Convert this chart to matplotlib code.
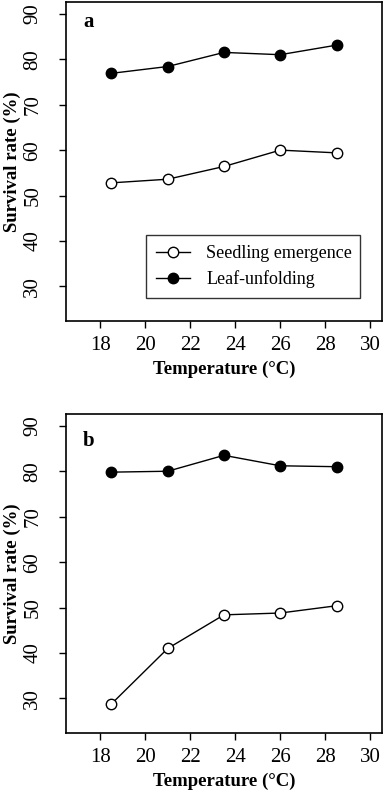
import numpy as np
import matplotlib.pyplot as plt

plt.rcParams['font.family'] = ['Liberation Serif', 'DejaVu Serif']

temp = [18.5, 21, 23.5, 26, 28.5]
seed_a = [52.8, 53.6, 56.4, 60.0, 59.4]
leaf_a = [76.9, 78.4, 81.5, 81.0, 83.1]
seed_b = [28.8, 41.0, 48.4, 48.8, 50.4]
leaf_b = [79.8, 80.0, 83.5, 81.2, 81.0]

fig = plt.figure(figsize=(3.87, 7.92), dpi=100)
ax_a = fig.add_axes([0.1705, 0.5947, 0.8165, 0.4028])
ax_b = fig.add_axes([0.1705, 0.0745, 0.8165, 0.4028])

for ax, seed, leaf, lab, ly in [(ax_a, seed_a, leaf_a, 'a', 0.922),
                                (ax_b, seed_b, leaf_b, 'b', 0.90)]:
    ax.plot(temp, seed, '-o', color='black', mfc='white', mec='black',
            ms=7.5, mew=1.0, lw=1.0, label='Seedling emergence', zorder=3)
    ax.plot(temp, leaf, '-o', color='black', mfc='black', mec='black',
            ms=7.5, mew=1.0, lw=1.0, label='Leaf-unfolding', zorder=3)
    ax.set_xlim(16.48, 30.52)
    ax.set_ylim(22.4, 92.6)
    ax.set_xticks(np.arange(18, 31, 2))
    ax.set_yticks(np.arange(30, 91, 10))
    ax.tick_params(direction='out', length=5, width=1, labelsize=15)
    ax.tick_params(axis='x', pad=6)
    ax.tick_params(axis='y', pad=12)
    plt.setp(ax.get_yticklabels(), rotation=90, va='center')
    for s in ax.spines.values():
        s.set_linewidth(1.2)
    ax.set_xlabel('Temperature (\u00b0C)', fontsize=13.5, fontweight='bold', labelpad=4)
    ax.set_ylabel('Survival rate (%)', fontsize=13.5, fontweight='bold', labelpad=2)
    ax.text(0.054, ly, lab, transform=ax.transAxes, fontsize=15,
            fontweight='bold', va='baseline', ha='left')

leg = ax_a.legend(loc='lower left', bbox_to_anchor=(0.253, 0.072, 0.677, 0.213),
                  mode='expand', frameon=True, fancybox=False, edgecolor='black',
                  fontsize=13, handlelength=1.9, handletextpad=0.9,
                  borderpad=0.55, labelspacing=0.45, borderaxespad=0)
leg.get_frame().set_linewidth(1.0)

fig.savefig('out.png', dpi=100)
